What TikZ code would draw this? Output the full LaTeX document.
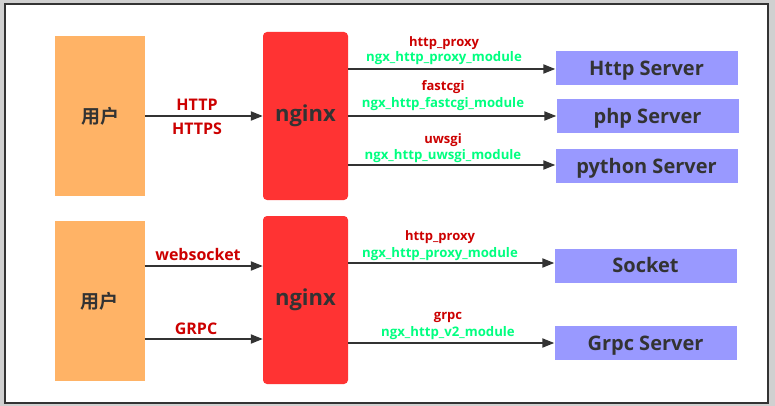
\documentclass[tikz,border=0pt]{standalone}
\usepackage{fontspec}
\setmainfont{Open Sans}
\newfontfamily\cjk{Noto Sans CJK SC}[BoldFont={Noto Sans CJK SC Bold}]
\usetikzlibrary{arrows.meta,positioning}
\definecolor{userorange}{RGB}{255,179,102}
\definecolor{nginxred}{RGB}{255,51,51}
\definecolor{serverblue}{RGB}{153,153,255}
\definecolor{labelred}{RGB}{204,0,0}
\definecolor{modgreen}{RGB}{0,255,128}
\definecolor{darktext}{RGB}{51,51,51}
\definecolor{framegray}{RGB}{208,208,208}
\tikzset{
  capcenter/.style={text height=#1, text depth=0pt},
  userbox/.style={fill=userorange, minimum width=90pt, minimum height=160pt,
    font=\cjk\bfseries\fontsize{19}{21}\selectfont, text=darktext},
  nginxbox/.style={fill=nginxred, rounded corners=4pt, minimum width=85pt,
    minimum height=168pt, font=\bfseries\fontsize{22}{24}\selectfont, text=darktext},
  serverbox/.style={fill=serverblue, minimum width=182pt, minimum height=34pt,
    capcenter=14.3pt, font=\bfseries\fontsize{20}{22}\selectfont, text=darktext},
  proto/.style={text=labelred, capcenter=11.4pt, font=\bfseries\fontsize{16}{18}\selectfont},
  toplbl/.style={text=labelred, capcenter=9.3pt, font=\bfseries\fontsize{13}{15}\selectfont},
  modlbl/.style={text=modgreen, capcenter=9.4pt, font=\bfseries\fontsize{13.2}{15}\selectfont},
  flow/.style={draw=darktext, line width=2pt, -{Triangle[length=12pt,width=9pt]}},
}
\begin{document}
\begin{tikzpicture}[x=1pt, y=-1pt]
% frame
\fill[framegray] (0,0) rectangle (775,406);
\fill[white] (5,4) rectangle (768,403);
\draw[darktext, line width=2.5pt] (5,4) rectangle (768,403);
\useasboundingbox (0,0) rectangle (775,406);
% upper group
\node[userbox] (user1) at (100,116) {用户};
\node[nginxbox] (nginx1) at (305.5,116) {nginx};
\node[serverbox] (http) at (646.5,68) {Http Server};
\node[serverbox] (php) at (647.5,116.5) {php Server};
\node[serverbox] (python) at (646.5,166) {python Server};
\draw[flow] (user1.east |- 0,116) -- (nginx1.west |- 0,116);
\node[proto] (lhttp) at (197,105) {HTTP};
\node[proto] (lhttps) at (197,129) {HTTPS};
\draw[flow] (nginx1.east |- 0,69) -- (http.west |- 0,69);
\node[toplbl] (lproxy1) at (444,42) {http\_proxy};
\node[modlbl] (mproxy1) at (444,57) {ngx\_http\_proxy\_module};
\draw[flow] (nginx1.east |- 0,116) -- (php.west |- 0,116);
\node[toplbl] (lfcgi) at (443,86) {fastcgi};
\node[modlbl] (mfcgi) at (443,103) {ngx\_http\_fastcgi\_module};
\draw[flow] (nginx1.east |- 0,165) -- (python.west |- 0,165);
\node[toplbl] (luwsgi) at (443,139) {uwsgi};
\node[modlbl] (muwsgi) at (443,155) {ngx\_http\_uwsgi\_module};
% lower group
\node[userbox] (user2) at (99.5,301) {用户};
\node[nginxbox] (nginx2) at (305.5,300) {nginx};
\node[serverbox] (socket) at (645.5,265.5) {Socket};
\node[serverbox] (grpc) at (645.5,343) {Grpc Server};
\draw[flow] (user2.east |- 0,266) -- (nginx2.west |- 0,266);
\node[proto] (lws) at (198,255) {websocket};
\draw[flow] (user2.east |- 0,339) -- (nginx2.west |- 0,339);
\node[proto] (lgrpc) at (196,329) {GRPC};
\draw[flow] (nginx2.east |- 0,263) -- (socket.west |- 0,263);
\node[toplbl] (lproxy2) at (440,236) {http\_proxy};
\node[modlbl] (mproxy2) at (440,253) {ngx\_http\_proxy\_module};
\draw[flow] (nginx2.east |- 0,343) -- (grpc.west |- 0,343);
\node[toplbl] (lgrpcm) at (448,315) {grpc};
\node[modlbl] (mgrpc) at (448,332) {ngx\_http\_v2\_module};
\end{tikzpicture}
\end{document}
